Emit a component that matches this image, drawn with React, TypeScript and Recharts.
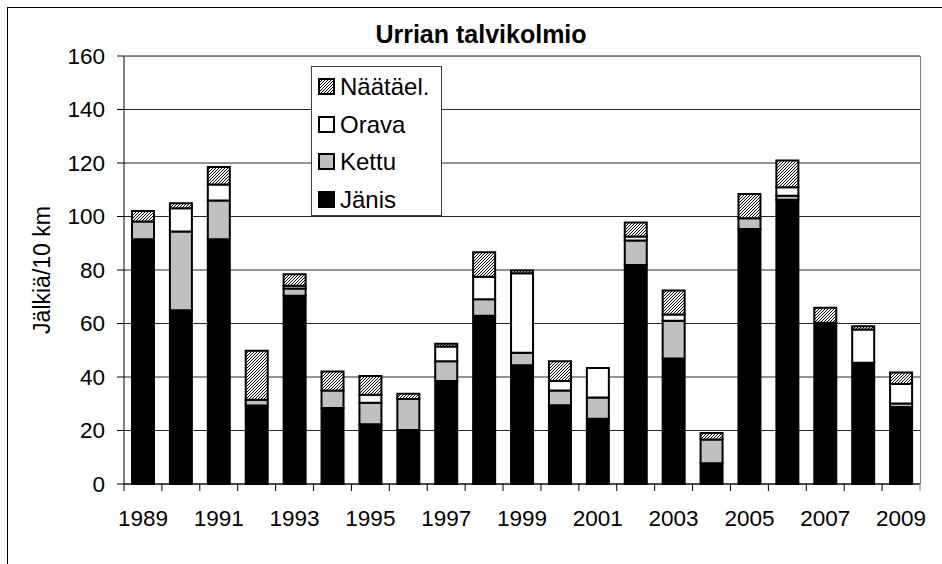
import React from "react";
import { BarChart, Bar, XAxis, YAxis, CartesianGrid, Legend } from "recharts";

// tracks per 10 km, winter triangle counts
const years = [
  "1989", "1990", "1991", "1992", "1993", "1994", "1995", "1996", "1997", "1998", "1999",
  "2000", "2001", "2002", "2003", "2004", "2005", "2006", "2007", "2008", "2009",
];
const janis = [91.5, 65, 91.5, 29.3, 70.4, 28.4, 22.3, 20.2, 38.5, 62.9, 44.4, 29.4, 24.4, 81.9, 46.9, 7.8, 95.3, 106.3, 60.3, 45.3, 28.8];
const kettu = [6.6, 29.4, 14.5, 2.2, 2.7, 6.6, 8.1, 11.6, 7.4, 6.2, 4.7, 5.6, 7.9, 9.1, 14.1, 8.8, 4, 1.5, 0, 0, 1.3];
const orava = [0, 8.7, 6, 0, 1, 0, 3, 0, 5.5, 8.4, 29.7, 3.5, 11.1, 1.5, 2.4, 0, 0, 3.1, 0, 12.5, 7.3];
const naata = [4, 1.9, 6.5, 18.3, 4.3, 7.1, 7, 1.9, 1, 9.1, 1, 7.4, 0, 5.3, 8.9, 2.5, 9.1, 10, 5.6, 1.2, 4.3];
const yTicks = [0, 20, 40, 60, 80, 100, 120, 140, 160];

const data = years.map((year, i) => ({
  year,
  janis: janis[i],
  kettu: kettu[i],
  orava: orava[i],
  naata: naata[i],
}));

const FONT = "'Liberation Sans', Arial, sans-serif";
const W = 942;
const H = 564;
const PLOT = { left: 124, top: 56, right: 920, bottom: 484 };
const STEP = (PLOT.right - PLOT.left) / years.length;

const legendItems = [
  { label: "Näätäel.", fill: "url(#hatch)" },
  { label: "Orava", fill: "#ffffff" },
  { label: "Kettu", fill: "#c0c0c0" },
  { label: "Jänis", fill: "#000000" },
];

function YearTick(props: any) {
  const { x, y, payload } = props;
  const idx = props.index ?? payload.index;
  const left = x - STEP / 2;
  const right = x + STEP / 2;
  return (
    <g>
      <line x1={left} x2={left} y1={y} y2={y + 7} stroke="#000" />
      {idx === years.length - 1 && (
        <line x1={right} x2={right} y1={y} y2={y + 7} stroke="#808080" />
      )}
      {idx % 2 === 0 && (
        <text x={x} y={y + 42} textAnchor="middle" fontSize={22.5} fontFamily={FONT} fill="#000">
          {payload.value}
        </text>
      )}
    </g>
  );
}

function LegendBox() {
  return (
    <div
      style={{
        position: "relative",
        width: 129,
        height: 148,
        border: "1px solid #404040",
        background: "#fff",
        fontFamily: FONT,
        fontSize: 24,
        boxSizing: "content-box",
      }}
    >
      {legendItems.map((item, i) => (
        <div
          key={item.label}
          style={{
            position: "absolute",
            left: 6,
            top: 8 + i * 37.5,
            height: 24,
            display: "flex",
            alignItems: "center",
            whiteSpace: "nowrap",
          }}
        >
          <svg width={18} height={18} style={{ marginRight: 4 }}>
            <rect x={1} y={1} width={15} height={15} fill={item.fill} stroke="#000" strokeWidth={2} />
          </svg>
          <span style={{ lineHeight: "24px" }}>{item.label}</span>
        </div>
      ))}
    </div>
  );
}

export default function App() {
  return (
    <div style={{ position: "absolute", left: 0, top: 0, width: W, height: H, background: "#fff", overflow: "hidden" }}>
      <svg width={0} height={0} style={{ position: "absolute" }}>
        <defs>
          <pattern id="hatch" patternUnits="userSpaceOnUse" width={3} height={3}>
            <rect width={3} height={3} fill="#fff" />
            <path d="M0,3 L3,0 M-1,1 L1,-1 M2,4 L4,2" stroke="#000" strokeWidth={1} />
          </pattern>
        </defs>
      </svg>
      <div
        style={{
          position: "absolute",
          left: 7,
          top: 7,
          width: W,
          height: H,
          border: "1px solid #000",
        }}
      />
      <div
        style={{
          position: "absolute",
          left: 0,
          width: 962,
          top: 20,
          textAlign: "center",
          fontFamily: FONT,
          fontWeight: "bold",
          fontSize: 25,
          lineHeight: "28px",
        }}
      >
        Urrian talvikolmio
      </div>
      <div style={{ position: "absolute", left: 0, top: 0 }}>
        <BarChart
          width={W}
          height={H}
          data={data}
          margin={{ top: PLOT.top, right: W - PLOT.right, bottom: 0, left: 0 }}
          barSize={22}
        >
          <CartesianGrid vertical={false} stroke="#000" strokeOpacity={0.85} />
          <XAxis
            dataKey="year"
            interval={0}
            tickLine={false}
            tickSize={0}
            tickMargin={0}
            height={H - PLOT.bottom}
            axisLine={{ stroke: "#000" }}
            tick={<YearTick />}
          />
          <YAxis
            width={PLOT.left}
            domain={[0, 160]}
            ticks={yTicks}
            interval={0}
            tickSize={7}
            tickMargin={12}
            axisLine={{ stroke: "#000" }}
            tickLine={{ stroke: "#000" }}
            tick={{ fontSize: 22.5, fontFamily: FONT, fill: "#000" }}
            label={{
              content: (p: any) => {
                const cy = p.viewBox ? p.viewBox.y + p.viewBox.height / 2 : 270;
                return (
                  <text
                    x={42}
                    y={cy}
                    transform={`rotate(-90 42 ${cy})`}
                    textAnchor="middle"
                    dominantBaseline="central"
                    fontSize={23}
                    fontFamily={FONT}
                    fill="#000"
                  >
                    Jälkiä/10 km
                  </text>
                );
              },
            }}
          />
          <Legend
            layout="horizontal"
            verticalAlign="middle"
            align="center"
            content={<LegendBox />}
            wrapperStyle={{ position: "absolute", left: 311, top: 66, width: 131, height: 150 }}
          />
          <Bar dataKey="janis" name="Jänis" stackId="a" fill="#000" stroke="#000" strokeWidth={2} isAnimationActive={false} />
          <Bar dataKey="kettu" name="Kettu" stackId="a" fill="#c0c0c0" stroke="#000" strokeWidth={2} isAnimationActive={false} />
          <Bar dataKey="orava" name="Orava" stackId="a" fill="#fff" stroke="#000" strokeWidth={2} isAnimationActive={false} />
          <Bar dataKey="naata" name="Näätäel." stackId="a" fill="url(#hatch)" stroke="#000" strokeWidth={2} isAnimationActive={false} />
        </BarChart>
      </div>
      <div
        style={{
          position: "absolute",
          left: PLOT.left,
          top: PLOT.top,
          width: PLOT.right - PLOT.left + 1,
          height: PLOT.bottom - PLOT.top,
          borderTop: "1px solid #808080",
          borderRight: "1px solid #808080",
          boxSizing: "border-box",
          pointerEvents: "none",
        }}
      />
    </div>
  );
}
